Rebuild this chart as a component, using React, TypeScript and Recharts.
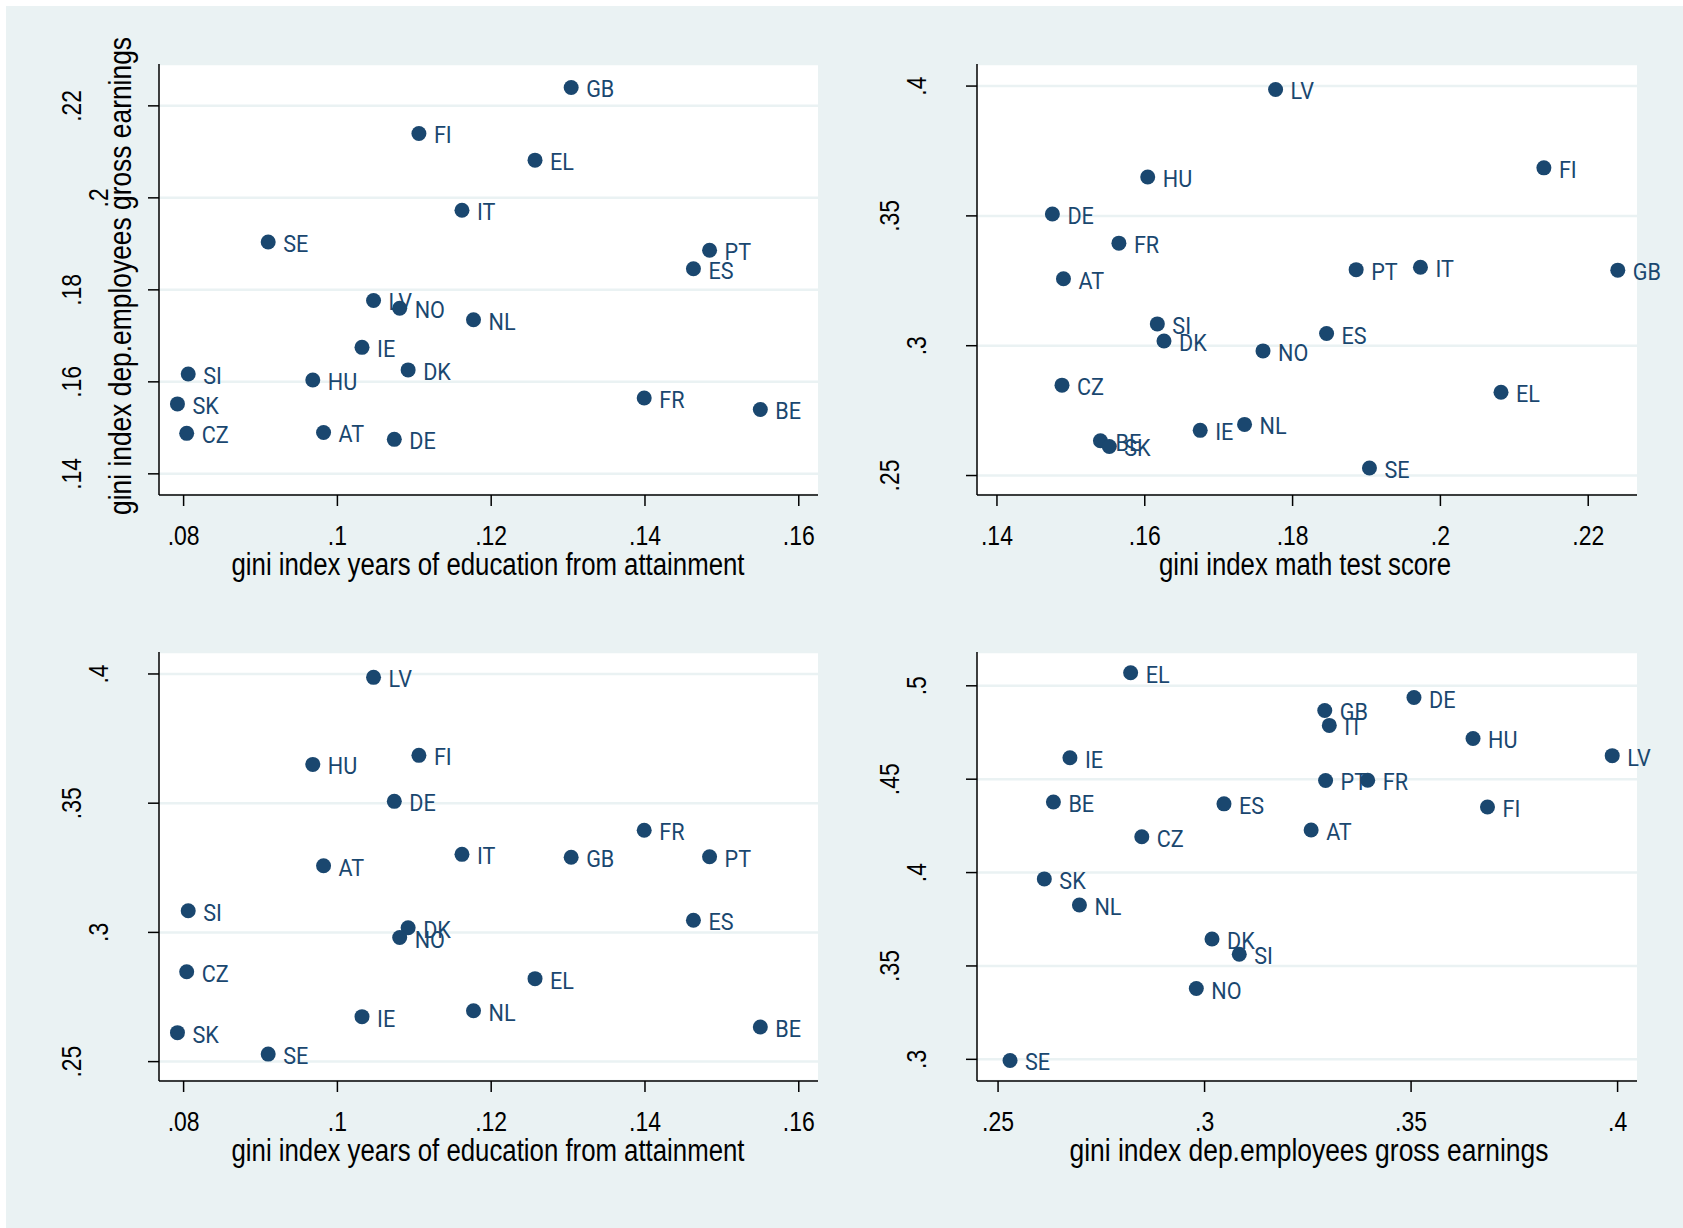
import { ScatterChart, Scatter, XAxis, YAxis, CartesianGrid } from 'recharts'

const NAVY = '#1a476f'
const BG = '#eaf2f3'
const AXIS_FONT = '"Liberation Sans", Arial, sans-serif'
const LABEL_FONT = 'Roboto, "Liberation Sans", sans-serif'

// countries, same order in every array below
const countries = ['AT', 'BE', 'CZ', 'DE', 'DK', 'EL', 'ES', 'FI', 'FR', 'GB', 'HU', 'IE', 'IT', 'LV', 'NL', 'NO', 'PT', 'SE', 'SI', 'SK']

// gini index years of education from attainment
const educGini = [0.0982, 0.1550, 0.0804, 0.1074, 0.1092, 0.1257, 0.1463, 0.1106, 0.1399, 0.1304, 0.0968, 0.1032, 0.1162, 0.1047, 0.1177, 0.1081, 0.1484, 0.0910, 0.0806, 0.0792]
// gini index dep.employees gross earnings (top-left y, top-right x)
const earnGini = [0.1490, 0.1540, 0.1488, 0.1475, 0.1626, 0.2082, 0.1846, 0.2140, 0.1565, 0.2240, 0.1604, 0.1675, 0.1973, 0.1777, 0.1735, 0.1760, 0.1886, 0.1904, 0.1617, 0.1552]
// second measure (top-right y, bottom-left y, bottom-right x)
const mathGini = [0.3258, 0.2634, 0.2848, 0.3507, 0.3018, 0.2821, 0.3047, 0.3685, 0.3395, 0.3291, 0.3650, 0.2674, 0.3302, 0.3987, 0.2697, 0.2980, 0.3293, 0.2529, 0.3084, 0.2612]
// bottom-right y
const thirdGini = [0.4228, 0.4378, 0.4192, 0.4937, 0.3644, 0.5070, 0.4368, 0.4351, 0.4494, 0.4868, 0.4718, 0.4615, 0.4788, 0.4626, 0.3826, 0.3379, 0.4493, 0.2994, 0.3563, 0.3966]

const educTicks = [0.08, 0.1, 0.12, 0.14, 0.16]
const earnTicks = [0.14, 0.16, 0.18, 0.2, 0.22]
const mathTicks = [0.25, 0.3, 0.35, 0.4]
const earnTicks4 = [0.25, 0.3, 0.35, 0.4]
const thirdTicks = [0.3, 0.35, 0.4, 0.45, 0.5]

const fmt = (v: number) => String(v).replace(/^0\./, '.')

type Box = { left: number; top: number; width: number; height: number }
type Plot = { left: number; top: number; right: number; bottom: number }

interface Panel {
  xs: number[]
  ys: number[]
  xDomain: [number, number]
  yDomain: [number, number]
  xTicks: number[]
  yTicks: number[]
  box: Box
  plot: Plot
}

const panels: Panel[] = [
  {
    xs: educGini, ys: earnGini, xDomain: [0.0768, 0.1625], yDomain: [0.1354, 0.2291],
    xTicks: educTicks, yTicks: earnTicks,
    box: { left: 0, top: 0, width: 840, height: 610 },
    plot: { left: 159, top: 64, right: 818, bottom: 495 },
  },
  {
    xs: earnGini, ys: mathGini, xDomain: [0.1373, 0.2266], yDomain: [0.2425, 0.4085],
    xTicks: earnTicks, yTicks: mathTicks,
    box: { left: 840, top: 0, width: 843, height: 610 },
    plot: { left: 977, top: 64, right: 1637, bottom: 495 },
  },
  {
    xs: educGini, ys: mathGini, xDomain: [0.0768, 0.1625], yDomain: [0.2425, 0.4085],
    xTicks: educTicks, yTicks: mathTicks,
    box: { left: 0, top: 610, width: 840, height: 618 },
    plot: { left: 159, top: 652, right: 818, bottom: 1081 },
  },
  {
    xs: mathGini, ys: thirdGini, xDomain: [0.2449, 0.4047], yDomain: [0.2884, 0.5181],
    xTicks: earnTicks4, yTicks: thirdTicks,
    box: { left: 840, top: 610, width: 843, height: 618 },
    plot: { left: 977, top: 652, right: 1637, bottom: 1081 },
  },
]

const XTick = (props: any) => {
  const { x, payload, base } = props
  return (
    <text transform={`translate(${x},${base}) scale(0.82,1)`} textAnchor="middle"
      fontSize={28} fontFamily={AXIS_FONT} fill="#000">
      {fmt(payload.value)}
    </text>
  )
}

const YTick = (props: any) => {
  const { y, payload, axisX } = props
  const s = fmt(payload.value)
  const bx = axisX + 3 - 27 * s.length
  return (
    <text transform={`translate(${bx},${y}) rotate(-90) scale(0.82,1)`} textAnchor="middle"
      fontSize={28} fontFamily={AXIS_FONT} fill="#000">
      {s}
    </text>
  )
}

const Dot = (props: any) => {
  const { cx, cy, payload } = props
  return (
    <g>
      <circle cx={cx} cy={cy} r={7.5} fill={NAVY} />
      <text transform={`translate(${cx + 15},${cy + 10}) scale(0.9,1)`} fontSize={24}
        fontFamily={LABEL_FONT} fill={NAVY}>
        {payload.c}
      </text>
    </g>
  )
}

function PanelChart({ p }: { p: Panel }) {
  const { box, plot } = p
  const data = countries.map((c, i) => ({ c, x: p.xs[i], y: p.ys[i] }))
  const axisStyle = { stroke: '#000', strokeWidth: 1.5 }
  return (
    <div style={{ position: 'absolute', left: box.left, top: box.top }}>
      <ScatterChart width={box.width} height={box.height}
        margin={{ top: plot.top - box.top, right: box.left + box.width - plot.right, bottom: 0, left: 0 }}>
        <CartesianGrid vertical={false} fill="#fff" stroke={BG} strokeWidth={2.5} />
        <XAxis type="number" dataKey="x" domain={p.xDomain} ticks={p.xTicks} interval={0}
          height={box.top + box.height - plot.bottom} tickSize={11} axisLine={axisStyle} tickLine={axisStyle}
          tick={<XTick base={plot.bottom - box.top + 50} />} />
        <YAxis type="number" dataKey="y" domain={p.yDomain} ticks={p.yTicks} interval={0}
          width={plot.left - box.left} tickSize={11} axisLine={axisStyle} tickLine={axisStyle}
          tick={<YTick axisX={plot.left - box.left} />} />
        <Scatter data={data} isAnimationActive={false} shape={Dot} />
      </ScatterChart>
    </div>
  )
}

const Title = ({ x, y, len, rotate = 0, children }: any) => (
  <text transform={`translate(${x},${y}) rotate(${rotate})`} textAnchor="middle" fontSize={31}
    fontFamily={AXIS_FONT} fill="#000" textLength={len} lengthAdjust="spacingAndGlyphs">
    {children}
  </text>
)

export default function App() {
  return (
    <div style={{ position: 'absolute', left: 0, top: 0, width: 1683, height: 1228, background: '#fff', overflow: 'hidden' }}>
      <div style={{ position: 'absolute', left: 6, top: 6, right: 0, bottom: 0, background: BG }} />
      {panels.map((p, i) => <PanelChart key={i} p={p} />)}
      <svg width={1683} height={1228} style={{ position: 'absolute', left: 0, top: 0, pointerEvents: 'none' }}>
        <Title x={488} y={575} len={513}>gini index years of education from attainment</Title>
        <Title x={1305} y={575} len={292}>gini index math test score</Title>
        <Title x={488} y={1161} len={513}>gini index years of education from attainment</Title>
        <Title x={1309} y={1161} len={479}>gini index dep.employees gross earnings</Title>
        <Title x={131} y={276} len={478} rotate={-90}>gini index dep.employees gross earnings</Title>
      </svg>
    </div>
  )
}
